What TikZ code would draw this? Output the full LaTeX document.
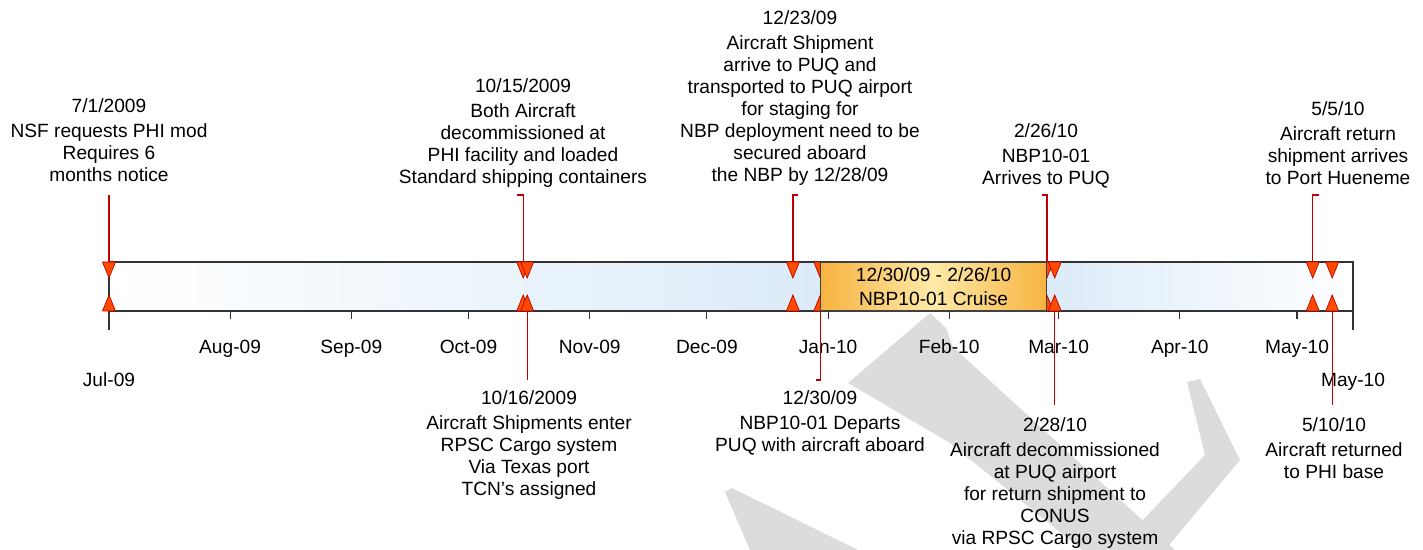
\documentclass[tikz,border=0pt]{standalone}
\usepackage{fontspec}
\setmainfont{Liberation Sans}
\usepackage{tikz}
\usetikzlibrary{calc}

\definecolor{callred}{HTML}{C00000}
\definecolor{markfill}{HTML}{FF4B00}
\definecolor{barblue}{HTML}{DCEBF8}
\definecolor{cruisedark}{HTML}{F7B340}
\definecolor{cruiselight}{HTML}{FEEAA8}
\definecolor{wmgrey}{HTML}{DCDCDC}

\newcommand{\tlfont}{\fontsize{10.9}{12.5}\selectfont}

\begin{document}
\begin{tikzpicture}[
        x=0.02cm, y=-0.02cm,
        barline/.style={
            draw=black!80,
            line width=0.6pt
        },
        marker/.style={
            fill=markfill,
            draw=callred,
            line width=0.4pt
        },
        callout/.style={
            draw=callred,
            line width=0.7pt
        },
        evlabel/.style={
            align=center,
            inner sep=0pt,
            font=\tlfont
        },
        monthlabel/.style={
            anchor=base,
            inner sep=0pt,
            font=\tlfont
        },
        cruise/.style={
            draw=black!75,
            line width=0.6pt,
            left color=cruisedark,
            right color=cruisedark,
            middle color=cruiselight,
            minimum width=4.532cm,
            minimum height=0.98cm,
            inner sep=0pt,
            align=center,
            font=\tlfont
        }
    ]

        \useasboundingbox (0,0) rectangle (1423,550);

        % watermark behind everything
        \fill[wmgrey] (848,383) -- (930,313) -- (946,328) -- (953,347)
            -- (1175,550) -- (1082,550) -- (950,443) -- cycle;
        \fill[wmgrey] (1187,382) -- (1200,379) -- (1240,460) -- (1165,550)
            -- (1114,550) -- (1205,455) -- cycle;
        \fill[wmgrey] (725,492) -- (732,488) -- (858,550) -- (750,550) -- cycle;

        % time bar
        \shade[left color=white, right color=barblue] (109,262) rectangle (820.3,311);
        \shade[left color=barblue, right color=white] (1046.9,262) rectangle (1353,311);
        \draw[barline] (109,262) rectangle (1353,311);
        \draw[barline] (109,311) -- (109,330);
        \draw[barline] (1353,311) -- (1353,330);

        \foreach \x/\m in {230.1/Aug-09, 351.3/Sep-09, 468.5/Oct-09, 589.7/Nov-09,
                706.9/Dec-09, 828.1/Jan-10, 949.2/Feb-10, 1058.6/Mar-10,
                1179.8/Apr-10, 1297.0/May-10} {
            \draw[barline] (\x,311) -- (\x,319);
            \node[monthlabel] (mo-\m) at (\x,354) {\m};
        }
        \node[monthlabel] (mo-start) at (109,387) {Jul-09};
        \node[monthlabel] (mo-end) at (1353,387) {May-10};

        % event positions (3.908 px per day from 7/1/2009)
        \foreach \n/\x in {0701/109, 1015/523.2, 1016/527.2, 1223/792.9, 1230/820.3,
                0226/1046.9, 0228/1054.7, 0505/1312.7, 0510/1332.2} {
            \coordinate (top\n) at (\x,262);
            \coordinate (bot\n) at (\x,295);
        }

        % labels above
        \node[evlabel, anchor=north] (ev0701) at (109,98)
            {7/1/2009\\[2pt]NSF requests PHI mod\\Requires 6\\months notice};
        \node[evlabel, anchor=north] (ev1015) at (523,78)
            {10/15/2009\\[2pt]Both Aircraft\\decommissioned at\\PHI facility and loaded\\Standard shipping containers};
        \node[evlabel, anchor=north] (ev1223) at (800,10)
            {12/23/09\\[2pt]Aircraft Shipment\\arrive to PUQ and\\transported to PUQ airport\\for staging for\\NBP deployment need to be\\secured aboard\\the NBP by 12/28/09};
        \node[evlabel, anchor=north] (ev0226) at (1046,123)
            {2/26/10\\[2pt]NBP10-01\\Arrives to PUQ};
        \node[evlabel, anchor=north] (ev0505) at (1338,101)
            {5/5/10\\[2pt]Aircraft return\\shipment arrives\\to Port Hueneme};

        % labels below
        \node[evlabel, anchor=north] (ev1016) at (529,390)
            {10/16/2009\\[2pt]Aircraft Shipments enter\\RPSC Cargo system\\Via Texas port\\TCN’s assigned};
        \node[evlabel, anchor=north] (ev1230) at (820,390)
            {12/30/09\\[2pt]NBP10-01 Departs\\PUQ with aircraft aboard};
        \node[evlabel, anchor=north] (ev0228) at (1055,417)
            {2/28/10\\[2pt]Aircraft decommissioned\\at PUQ airport\\for return shipment to\\CONUS\\via RPSC Cargo system};
        \node[evlabel, anchor=north] (ev0510) at (1334,417)
            {5/10/10\\[2pt]Aircraft returned\\to PHI base};

        % callout lines
        \coordinate (c0701) at (109,195);
        \coordinate (c1015) at (523.2,195);
        \coordinate (c1223) at (792.9,195);
        \coordinate (c0226) at (1046.9,195);
        \coordinate (c0505) at (1312.7,195);
        \coordinate (c1016) at (527.2,380);
        \coordinate (c1230) at (820.3,380);
        \coordinate (c0228) at (1054.7,405);
        \coordinate (c0510) at (1332.2,405);

        \draw[callout] (c0701) -- (top0701);
        \draw[callout] ($(c1015)+(-6,0)$) -- (c1015) -- (top1015);
        \draw[callout] ($(c1223)+(5,0)$) -- (c1223) -- (top1223);
        \draw[callout] ($(c0226)+(-5,0)$) -- (c0226) -- (top0226);
        \draw[callout] ($(c0505)+(6,0)$) -- (c0505) -- (top0505);
        \draw[callout] (bot1016) -- (c1016);
        \draw[callout] (bot1230) -- (c1230) -- ++(-4,0);
        \draw[callout] (bot0228) -- (c0228);
        \draw[callout] (bot0510) -- (c0510);

        % markers
        \foreach \n in {0701,1015,1016,1223,1230,0226,0228,0505,0510} {
            \filldraw[marker] ($(top\n)+(-6.5,0)$) -- ($(top\n)+(6.5,0)$) -- ($(top\n)+(0,16)$) -- cycle;
            \filldraw[marker] ($(bot\n)+(-6.5,16)$) -- ($(bot\n)+(6.5,16)$) -- (bot\n) -- cycle;
        }

        % cruise period
        \node[cruise] (cruise) at (933.6,286.5) {12/30/09 - 2/26/10\\[1pt]NBP10-01 Cruise};

    \end{tikzpicture}
\end{document}
